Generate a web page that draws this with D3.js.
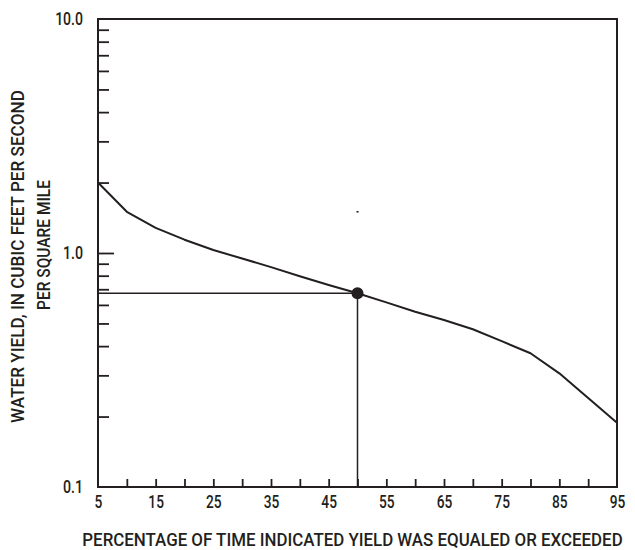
<!DOCTYPE html>
<html>
<head>
<meta charset="utf-8">
<script src="https://cdn.jsdelivr.net/npm/d3@7"></script>
<style>
  html, body { margin: 0; padding: 0; background: #fff; }
  svg { display: block; }
  text { font-family: Roboto, "DejaVu Sans Condensed", sans-serif; font-weight: 500; fill: #231f20; }
</style>
</head>
<body>
<svg id="chart" width="635" height="550"></svg>
<script>
// ---- data ----
const percentExceeded = [5, 10, 15, 20, 25, 30, 35, 40, 45, 50, 55, 60, 65, 70, 75, 80, 85, 90, 95];
const waterYield = [2.0, 1.50, 1.28, 1.14, 1.03, 0.947, 0.87, 0.795, 0.73, 0.673, 0.615, 0.561, 0.517, 0.472, 0.42, 0.373, 0.306, 0.24, 0.188];
const markerPct = [50];
const markerYield = [0.673];
const strayPct = [50];
const strayYield = [1.5];
const xLabelTicks = [5, 15, 25, 35, 45, 55, 65, 75, 85, 95];
const xMinorTicks = [10, 15, 20, 25, 30, 35, 40, 45, 50, 55, 60, 65, 70, 75, 80, 85, 90];
const yLabelTicks = [0.1, 1.0, 10.0];
const yMinorTicks = [0.2, 0.3, 0.4, 0.5, 0.6, 0.7, 0.8, 0.9, 2, 3, 4, 5, 6, 7, 8, 9];
const yMajorInner = [1.0];
const xTitle = "PERCENTAGE OF TIME INDICATED YIELD WAS EQUALED OR EXCEEDED";
const yTitle1 = "WATER YIELD, IN CUBIC FEET PER SECOND";
const yTitle2 = "PER SQUARE MILE";

// ---- layout ----
const ink = "#231f20";
const L = 98, R = 617, T = 19, B = 487;
const FS = 18;
const svg = d3.select("#chart");
const x = d3.scaleLinear().domain([5, 95]).range([L, R]);
const y = d3.scaleLog().domain([0.1, 10]).range([B, T]);

// target condensed width for a tick label
function labelWidth(s) {
  let w = 0;
  for (const c of s) w += (c === ".") ? 4.5 : 7.8;
  return w;
}
function condense(sel) {
  sel.attr("font-size", FS).attr("fill", ink)
    .style("font-family", 'Roboto, "DejaVu Sans Condensed", sans-serif')
    .style("font-weight", 500)
    .each(function () {
      const t = d3.select(this);
      const actual = this.getComputedTextLength();
      const sx = actual > 0 ? labelWidth(this.textContent) / actual : 1;
      const x0 = +t.attr("x") || 0;
      t.attr("x", x0 / sx).attr("transform", `scale(${sx},1)`);
    });
}

// inner ticks
const xMinor = svg.append("g").attr("transform", `translate(0,${B})`)
  .call(d3.axisBottom(x).tickValues(xMinorTicks).tickSize(-8).tickFormat(""));
xMinor.select(".domain").remove();
xMinor.selectAll("line").attr("stroke", ink).attr("stroke-width", 1.8);

const yMinor = svg.append("g").attr("transform", `translate(${L},0)`)
  .call(d3.axisRight(y).tickValues(yMinorTicks).tickSize(11).tickFormat(""));
yMinor.select(".domain").remove();
yMinor.selectAll("line").attr("stroke", ink).attr("stroke-width", 1.8);

const yMaj = svg.append("g").attr("transform", `translate(${L},0)`)
  .call(d3.axisRight(y).tickValues(yMajorInner).tickSize(16).tickFormat(""));
yMaj.select(".domain").remove();
yMaj.selectAll("line").attr("stroke", ink).attr("stroke-width", 1.8);

// tick labels
const xLab = svg.append("g").attr("transform", `translate(0,${B})`)
  .call(d3.axisBottom(x).tickValues(xLabelTicks).tickSize(0).tickPadding(8).tickFormat(d3.format("d")));
xLab.select(".domain").remove();
xLab.selectAll("text").call(condense);

const yLab = svg.append("g").attr("transform", `translate(${L},0)`)
  .call(d3.axisLeft(y).tickValues(yLabelTicks).tickSize(0).tickPadding(15).tickFormat(d3.format(".1f")));
yLab.select(".domain").remove();
yLab.selectAll("text").call(condense);

// reference lines
svg.append("line")
  .attr("x1", x(5)).attr("x2", x(markerPct[0]))
  .attr("y1", y(markerYield[0])).attr("y2", y(markerYield[0]))
  .attr("stroke", ink).attr("stroke-width", 1.5);
svg.append("line")
  .attr("x1", x(markerPct[0])).attr("x2", x(markerPct[0]))
  .attr("y1", y(markerYield[0])).attr("y2", y(0.1))
  .attr("stroke", ink).attr("stroke-width", 1.5);

// curve
const line = d3.line().x((d, i) => x(percentExceeded[i])).y(d => y(d));
svg.append("path").datum(waterYield)
  .attr("d", line).attr("fill", "none").attr("stroke", ink)
  .attr("stroke-width", 2).attr("stroke-linejoin", "round");

// marker
svg.selectAll("circle.marker").data(markerPct).enter().append("circle")
  .attr("class", "marker")
  .attr("cx", d => x(d)).attr("cy", (d, i) => y(markerYield[i]))
  .attr("r", 6).attr("fill", ink);

// stray speck
svg.selectAll("rect.speck").data(strayPct).enter().append("rect")
  .attr("class", "speck")
  .attr("x", d => x(d) - 1).attr("y", (d, i) => y(strayYield[i]) - 0.8)
  .attr("width", 2).attr("height", 1.6).attr("fill", ink);

// frame
svg.append("rect").attr("x", L).attr("y", T).attr("width", R - L).attr("height", B - T)
  .attr("fill", "none").attr("stroke", ink).attr("stroke-width", 2);

// titles, squeezed to the reference widths
function squeezeTitle(text, cx, cy, rot, width) {
  const g = svg.append("g").attr("transform", `translate(${cx},${cy}) rotate(${rot})`);
  const t = g.append("text").attr("text-anchor", "middle").attr("font-size", FS).text(text);
  const sx = width / t.node().getComputedTextLength();
  t.attr("transform", `scale(${sx},1)`);
}
squeezeTitle(xTitle, (82 + 623) / 2, 546, 0, 541);
squeezeTitle(yTitle1, 24, 256.5, -90, 333);
squeezeTitle(yTitle2, 50, 245, -90, 130);
</script>
</body>
</html>
